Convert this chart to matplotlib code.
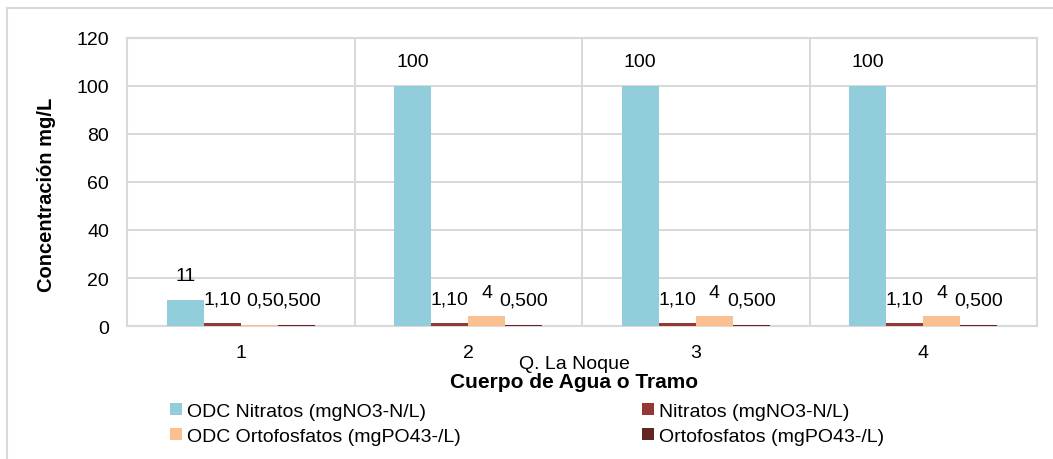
import numpy as np
import matplotlib
matplotlib.use('Agg')
import matplotlib.pyplot as plt
from matplotlib.patches import Patch

plt.rcParams['font.family'] = ['Liberation Sans', 'DejaVu Sans']

# Data
categories = ['1', '2', '3', '4']
series_names = ['ODC Nitratos (mgNO3-N/L)', 'Nitratos (mgNO3-N/L)',
                'ODC Ortofosfatos (mgPO43-/L)', 'Ortofosfatos (mgPO43-/L)']
odc_nitratos = [11, 100, 100, 100]
nitratos = [1.10, 1.10, 1.10, 1.10]
odc_ortofosfatos = [0.5, 4, 4, 4]
ortofosfatos = [0.500, 0.500, 0.500, 0.500]
value_labels = [
    ['11', '100', '100', '100'],
    ['1,10', '1,10', '1,10', '1,10'],
    ['0,5', '4', '4', '4'],
    ['0,500', '0,500', '0,500', '0,500'],
]
colors = ['#92CDDC', '#953735', '#FAC090', '#632523']

FS = 14
W, H = 1053, 460
fig = plt.figure(figsize=(W / 100, H / 100), dpi=100)
ax = fig.add_axes([127 / W, 1 - 327 / H, (1037 - 127) / W, (327 - 39) / H])

series = [odc_nitratos, nitratos, odc_ortofosfatos, ortofosfatos]
x = np.arange(len(categories))
bw = 0.163
for i, (vals, col) in enumerate(zip(series, colors)):
    pos = x + (i - 1.5) * bw
    ax.bar(pos, vals, width=bw, color=col, zorder=3)
    for xp, v, lab in zip(pos, vals, value_labels[i]):
        ax.annotate(lab, (xp, v), xytext=(0, 17.5), textcoords='offset points',
                    ha='center', va='center', fontsize=FS, color='#000000')

ax.set_xlim(-0.5, len(categories) - 0.5)
ax.set_ylim(0, 120)
ax.set_yticks(range(0, 121, 20))
ax.set_xticks(x)
ax.set_xticklabels(categories)
ax.tick_params(axis='both', length=0, labelsize=FS)
ax.tick_params(axis='x', pad=13)
ax.tick_params(axis='y', pad=13)

# grid: horizontal lines and category separators
ax.yaxis.grid(True, color='#D9D9D9', linewidth=1.5, zorder=0)
for sep in x[:-1] + 0.5:
    ax.axvline(sep, color='#D9D9D9', linewidth=1.5, zorder=0)
for s in ax.spines.values():
    s.set_color('#D9D9D9')
    s.set_linewidth(1.5)

ax.set_ylabel('Concentración mg/L', fontsize=14.5, fontweight='bold')
ax.yaxis.set_label_coords(-71 / 910, 0.46)

fig.text(574 / W, 1 - 365 / H, 'Q. La Noque', ha='center', va='center', fontsize=FS)
fig.text(574 / W, 1 - 383 / H, 'Cuerpo de Agua o Tramo', ha='center', va='center',
         fontsize=15, fontweight='bold')

# legend
handles = [Patch(facecolor=c, edgecolor='none') for c in colors]
order = [0, 2, 1, 3]
leg = fig.legend([handles[i] for i in order], [series_names[i] for i in order],
                 ncol=2, loc='center left', bbox_to_anchor=(170 / W, 1 - 425 / H),
                 frameon=False, fontsize=FS, handlelength=0.6, handleheight=0.6,
                 handletextpad=0.25, columnspacing=9.35, labelspacing=0.42,
                 borderaxespad=0, borderpad=0)

# outer chart border (partially visible)
fig.add_artist(plt.Line2D([7 / W, 7 / W], [0, 1 - 9 / H], transform=fig.transFigure,
                          color='#D9D9D9', linewidth=1.5))
fig.add_artist(plt.Line2D([7 / W, 1], [1 - 9 / H, 1 - 9 / H], transform=fig.transFigure,
                          color='#D9D9D9', linewidth=1.5))

fig.savefig('out.png', dpi=100)
